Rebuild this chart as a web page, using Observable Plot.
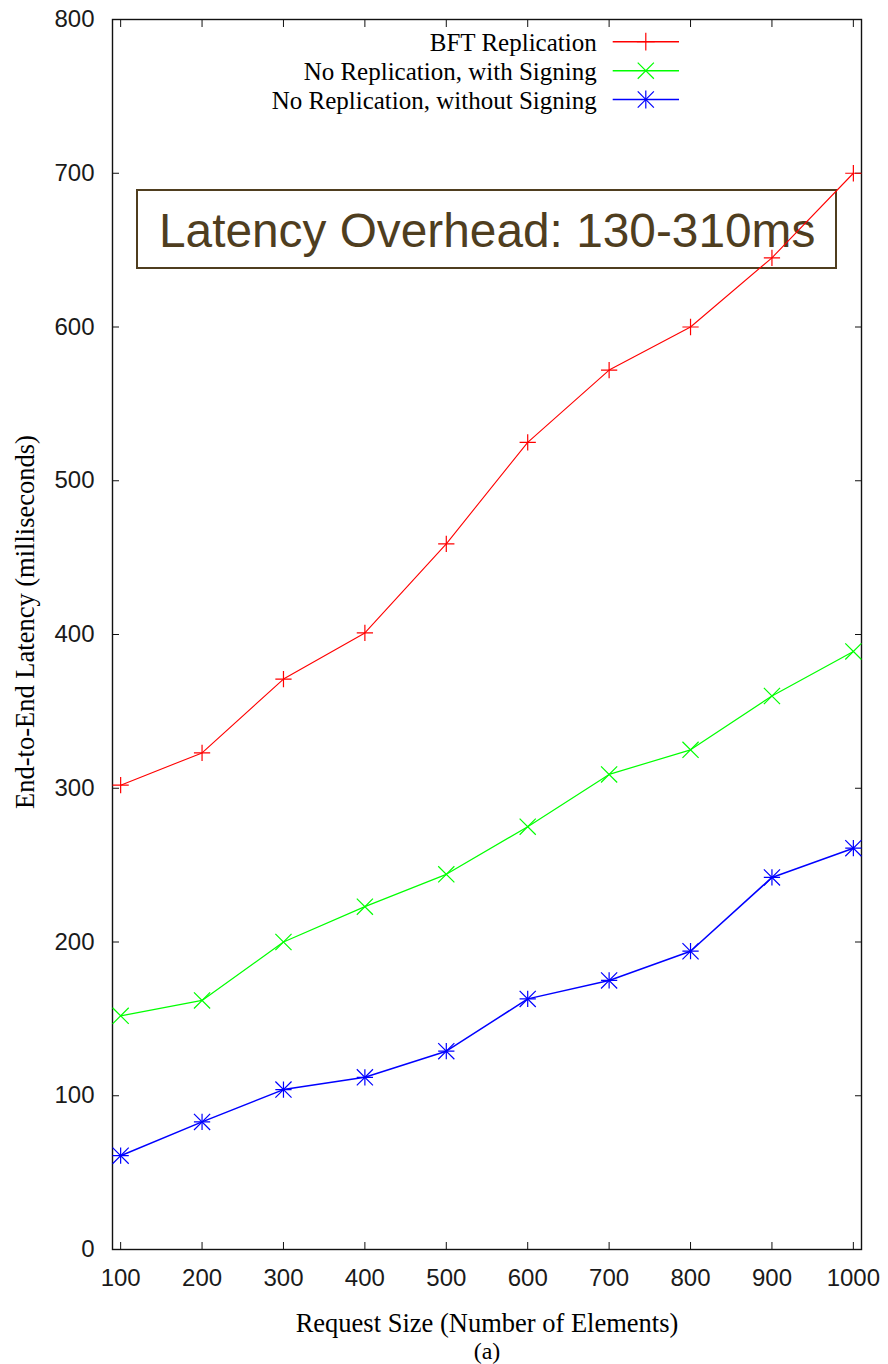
<!DOCTYPE html>
<html>
<head>
<meta charset="utf-8">
<script src="https://cdn.jsdelivr.net/npm/d3@7"></script>
<script src="https://cdn.jsdelivr.net/npm/@observablehq/plot@0.6"></script>
<style>
  html, body { margin: 0; padding: 0; background: #fff; }
  #wrap { position: relative; width: 888px; height: 1364px; overflow: hidden; }
  #chart { position: absolute; left: 0; top: 0; z-index: 1; }
  #chart svg { display: block; background: transparent; }
  #noteBox { position: absolute; z-index: 0; left: 136px; top: 189px; width: 701px; height: 80px;
             box-sizing: border-box; border: 2px solid #4f3e1f; background: #fff; }
  #noteText { position: absolute; z-index: 0; left: 159px; top: 206.5px; line-height: 1;
              font-family: "Liberation Sans", Arial, sans-serif; font-size: 47.8px; color: #4f3e1f; white-space: nowrap; }
  #legend { position: absolute; z-index: 2; left: 0; top: 0; }
</style>
</head>
<body>
<div id="wrap">
  <div id="noteBox"></div>
  <div id="noteText"></div>
  <div id="chart"></div>
  <svg id="legend" width="888" height="130"></svg>
</div>
<script>
// ---- data ----
const sizes = [100, 200, 300, 400, 500, 600, 700, 800, 900, 1000];
const bftReplication = [302, 323, 371, 401, 459, 525, 572, 600, 645, 700];
const noRepWithSigning = [152, 162, 200, 223, 244, 275, 309, 325, 360, 389];
const noRepWithoutSigning = [61, 83, 104, 112, 129, 163, 175, 194, 242, 261];
const seriesNames = ["BFT Replication", "No Replication, with Signing", "No Replication, without Signing"];
const seriesColors = ["#ff0000", "#00ff00", "#0000ff"];
const xTicks = [100, 200, 300, 400, 500, 600, 700, 800, 900, 1000];
const yTicks = [0, 100, 200, 300, 400, 500, 600, 700, 800];
const xLabel = "Request Size (Number of Elements)";
const subLabel = "(a)";
const yLabel = "End-to-End Latency (milliseconds)";
const noteText = "Latency Overhead: 130-310ms";

const seriesValues = [bftReplication, noRepWithSigning, noRepWithoutSigning];
const rowsFor = (k) => sizes.map((s, i) => ({size: s, latency: seriesValues[k][i], series: seriesNames[k]}));
const rBft = rowsFor(0), rSig = rowsFor(1), rNoSig = rowsFor(2);

const serif = "'Liberation Serif', 'Times New Roman', serif";
const sans = "'Liberation Sans', Arial, sans-serif";
const markW = 1.2;
const blank = () => "";

const chart = Plot.plot({
  width: 888,
  height: 1364,
  marginLeft: 112,
  marginRight: 27,
  marginTop: 19,
  marginBottom: 115,
  style: {fontFamily: sans, fontSize: "24px", color: "#000", background: "transparent"},
  x: {domain: [90, 1010]},
  y: {domain: [0, 800]},
  color: {domain: seriesNames, range: seriesColors},
  marks: [
    Plot.axisX({ticks: xTicks, tickSize: 0, tickPadding: 19, label: null, tickFormat: d => String(d), fill: "#1a1a1a"}),
    Plot.axisY({ticks: yTicks, tickSize: 0, tickPadding: 18, label: null, tickFormat: d => String(d), fill: "#1a1a1a"}),
    Plot.axisX({anchor: "bottom", ticks: xTicks, tickSize: -7, label: null, tickFormat: blank, stroke: "#111"}),
    Plot.axisX({anchor: "top", ticks: xTicks, tickSize: -7, label: null, tickFormat: blank, stroke: "#111"}),
    Plot.axisY({anchor: "left", ticks: yTicks, tickSize: -7, label: null, tickFormat: blank, stroke: "#111"}),
    Plot.axisY({anchor: "right", ticks: yTicks, tickSize: -7, label: null, tickFormat: blank, stroke: "#111"}),
    Plot.frame({stroke: "#111", strokeWidth: 1.4}),
    Plot.line(rBft, {x: "size", y: "latency", stroke: "series", strokeWidth: 1.1}),
    Plot.line(rSig, {x: "size", y: "latency", stroke: "series", strokeWidth: 1.2}),
    Plot.line(rNoSig, {x: "size", y: "latency", stroke: "series", strokeWidth: 1.5}),
    Plot.dot(rBft, {x: "size", y: "latency", symbol: "plus", r: 5.3, stroke: "series", strokeWidth: markW}),
    Plot.dot(rSig, {x: "size", y: "latency", symbol: "times", r: 7.4, stroke: "series", strokeWidth: markW}),
    Plot.dot(rNoSig, {x: "size", y: "latency", symbol: "plus", r: 5.3, stroke: "series", strokeWidth: markW}),
    Plot.dot(rNoSig, {x: "size", y: "latency", symbol: "times", r: 7.4, stroke: "series", strokeWidth: markW}),
    Plot.text([xLabel], {frameAnchor: "bottom", dy: 82, lineAnchor: "bottom", fontFamily: serif, fontSize: 26.5, fill: "#000"}),
    Plot.text([subLabel], {frameAnchor: "bottom", dy: 109, lineAnchor: "bottom", fontFamily: serif, fontSize: 24, fill: "#000"}),
    Plot.text([yLabel], {frameAnchor: "left", textAnchor: "middle", rotate: -90, dx: -97, dy: -12.5, lineAnchor: "top", fontFamily: serif, fontSize: 26.5, fill: "#000"})
  ]
});
document.getElementById("chart").appendChild(chart);
document.getElementById("noteText").textContent = noteText;

// ---- legend (gnuplot-style key, top right inside the frame) ----
const legend = d3.select("#legend");
const rowY = [41.7, 70.7, 99.5];
const symbolsFor = [[d3.symbolPlus], [d3.symbolTimes], [d3.symbolPlus, d3.symbolTimes]];
const radiusFor = {plus: 5.8, times: 7.4};
seriesNames.forEach((name, i) => {
  const y = rowY[i];
  legend.append("text")
    .attr("x", 596.7).attr("y", y + 9)
    .attr("text-anchor", "end")
    .attr("font-family", serif).attr("font-size", 25)
    .attr("fill", "#000")
    .text(name);
  legend.append("line")
    .attr("x1", 612.7).attr("x2", 679).attr("y1", y).attr("y2", y)
    .attr("stroke", seriesColors[i]).attr("stroke-width", 1.5);
  symbolsFor[i].forEach(sym => {
    const r = sym === d3.symbolPlus ? radiusFor.plus : radiusFor.times;
    legend.append("path")
      .attr("transform", `translate(645.8,${y})`)
      .attr("d", d3.symbol(sym, Math.PI * r * r)())
      .attr("fill", "none").attr("stroke", seriesColors[i]).attr("stroke-width", markW);
  });
});
</script>
</body>
</html>
